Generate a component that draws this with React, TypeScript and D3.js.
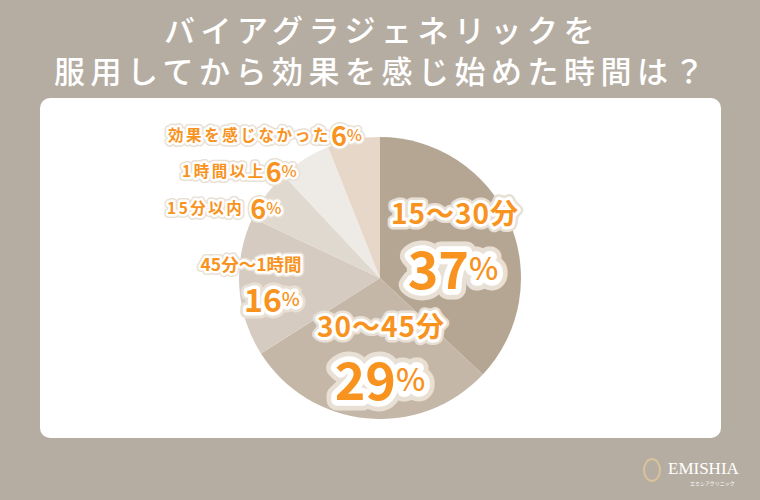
import React from "react";
import * as d3 from "d3";

const categories = ["15～30分", "30～45分", "45分～1時間", "15分以内", "1時間以上", "効果を感じなかった"];
const values = [37, 29, 16, 6, 6, 6];
const colors = ["#b5a693", "#c5b7a7", "#d5cbc0", "#e0d9d0", "#eeebe6", "#e6d7c9"];
const titleLines = ["バイアグラジェネリックを", "服用してから効果を感じ始めた時間は？"];

const W = 760, H = 500;
const cx = 380, cy = 278, R = 141;
const ORANGE = "#f7931e";
const FONT = "'Noto Sans CJK JP', sans-serif";

type LabelProps = { x: number; y: number; size: number; anchor?: string; ls?: number; children: React.ReactNode };

function Halo({ x, y, size, anchor = "middle", ls = 0, children }: LabelProps) {
  const common = {
    x, y, fontSize: size, textAnchor: anchor as any, fontFamily: FONT, fontWeight: 700,
    dominantBaseline: "central" as any, strokeLinejoin: "round" as any, letterSpacing: ls,
  };
  return (
    <g>
      <text {...common} fill="#e8dfd5" stroke="#e8dfd5" strokeWidth={Math.max(8, size * 0.4)}>{children}</text>
      <text {...common} fill="#ffffff" stroke="#ffffff" strokeWidth={Math.max(5, size * 0.22)}>{children}</text>
      <text {...common} fill={ORANGE}>{children}</text>
    </g>
  );
}

function Pct({ v, size, dx = 0 }: { v: number; size: number; dx?: number }) {
  return (
    <>
      <tspan fontSize={size} dx={dx} letterSpacing={0}>{v}</tspan>
      <tspan fontSize={size * 0.6} fontWeight={500} letterSpacing={0}>%</tspan>
    </>
  );
}

export default function App() {
  const pie = d3.pie<number>().sort(null).value((d) => d)(values);
  const arc = d3.arc<d3.PieArcDatum<number>>().innerRadius(0).outerRadius(R);

  return (
    <svg width={W} height={H} style={{ display: "block", position: "absolute", left: 0, top: 0 }}>
      <rect x={0} y={0} width={W} height={H} fill="#b6ada2" />
      {titleLines.map((t, i) => (
        <text key={i} x={382} y={28 + i * 41} textAnchor="middle" dominantBaseline="central"
          fontFamily={FONT} fontWeight={500} fontSize={31} fill="#ffffff" letterSpacing={5.5}>{t}</text>
      ))}
      <rect x={40} y={98} width={681} height={340} rx={10} fill="#ffffff" />
      <g transform={`translate(${cx},${cy})`}>
        {pie.map((p, i) => (
          <path key={i} d={arc(p) || ""} fill={colors[i]} />
        ))}
      </g>
      {/* big labels */}
      <Halo x={455} y={212} size={28} ls={1}>{categories[0]}</Halo>
      <Halo x={453} y={266} size={52}><Pct v={values[0]} size={52} /></Halo>
      <Halo x={381} y={325} size={28} ls={1}>{categories[1]}</Halo>
      <Halo x={380} y={377} size={52}><Pct v={values[1]} size={52} /></Halo>
      <Halo x={251} y={263} size={17.5}>{categories[2]}</Halo>
      <Halo x={272} y={298} size={32}><Pct v={values[2]} size={32} /></Halo>
      {/* small labels */}
      <Halo x={167} y={207} size={15.5} anchor="start"><tspan letterSpacing={2.5}>{categories[3]}</tspan><Pct v={values[3]} size={27} dx={6} /></Halo>
      <Halo x={182} y={170} size={15.5} anchor="start"><tspan letterSpacing={2.5}>{categories[4]}</tspan><Pct v={values[4]} size={27} /></Halo>
      <Halo x={168} y={134} size={15.5} anchor="start"><tspan letterSpacing={2.6}>{categories[5]}</tspan><Pct v={values[5]} size={27} /></Halo>
      {/* logo */}
      <g>
        <ellipse cx={652} cy={470} rx={8} ry={11} fill="none" stroke="#d9c39a" strokeWidth={2} />
        <text x={668} y={468} fontFamily="'Liberation Serif', serif" fontSize={17} fill="#ffffff" dominantBaseline="central">EMISHIA</text>
        <text x={690} y={482} fontFamily={FONT} fontSize={5} fill="#ffffff" dominantBaseline="central">エミシアクリニック</text>
      </g>
    </svg>
  );
}
